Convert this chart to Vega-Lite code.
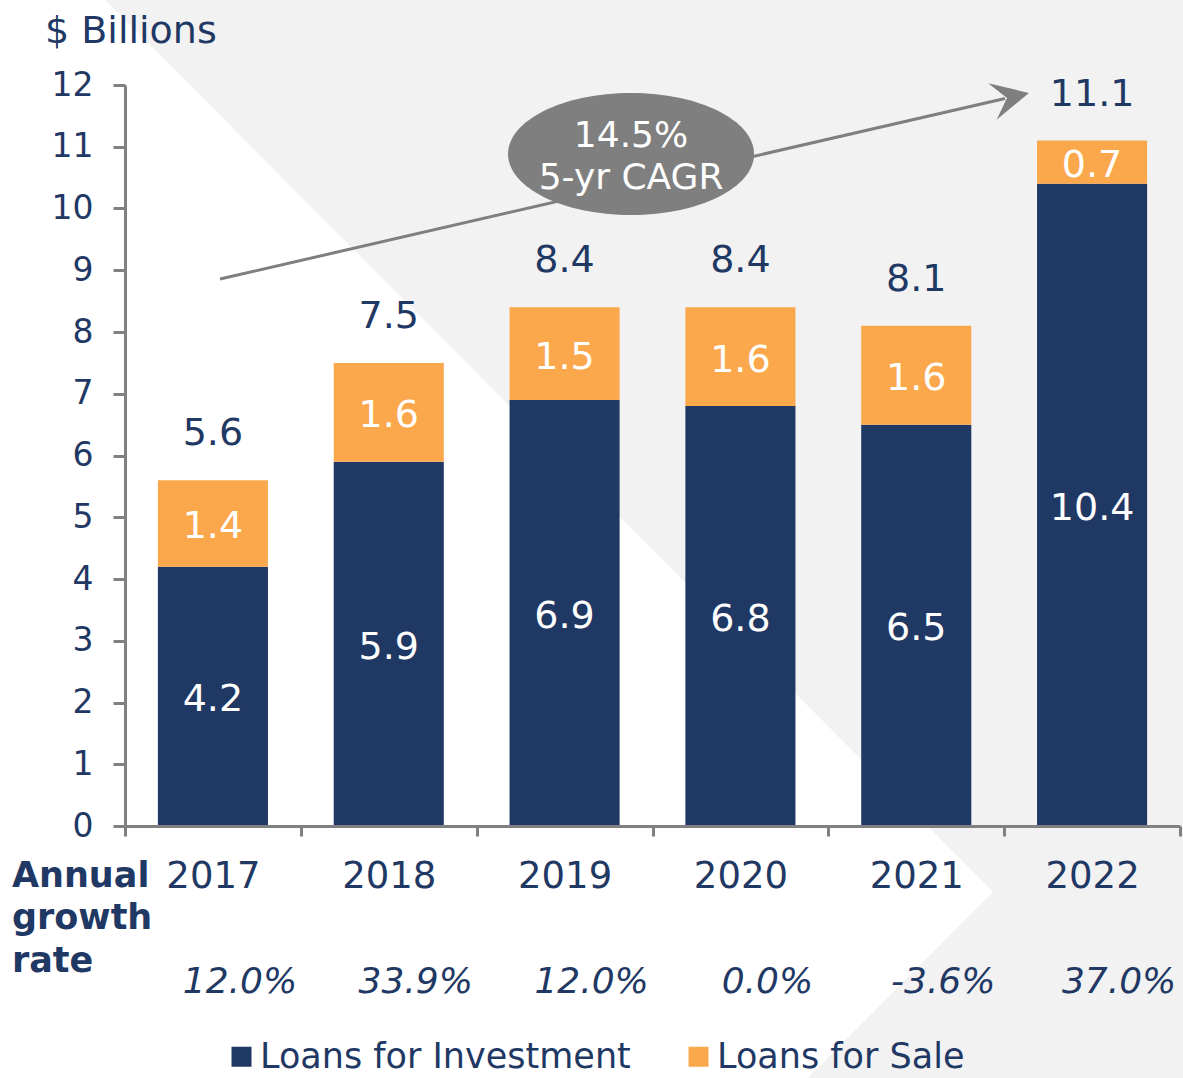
{
  "$schema": "https://vega.github.io/schema/vega-lite/v6.json",
  "width": 1055,
  "height": 741,
  "autosize": {"type": "none"},
  "padding": {"left": 125, "top": 85, "right": 3, "bottom": 252},
  "background": "white",
  "config": {
    "font": "DejaVu Sans",
    "view": {"stroke": null},
    "axis": {"grid": false, "domainColor": "#808080", "domainWidth": 3, "tickColor": "#808080", "tickWidth": 3, "labelColor": "#1f3864", "labelFont": "DejaVu Sans"}
  },
  "datasets": {
    "loans": [
      {"year": "2017", "type": "Loans for Investment", "amount": 4.2},
      {"year": "2017", "type": "Loans for Sale", "amount": 1.4},
      {"year": "2018", "type": "Loans for Investment", "amount": 5.9},
      {"year": "2018", "type": "Loans for Sale", "amount": 1.6},
      {"year": "2019", "type": "Loans for Investment", "amount": 6.9},
      {"year": "2019", "type": "Loans for Sale", "amount": 1.5},
      {"year": "2020", "type": "Loans for Investment", "amount": 6.8},
      {"year": "2020", "type": "Loans for Sale", "amount": 1.6},
      {"year": "2021", "type": "Loans for Investment", "amount": 6.5},
      {"year": "2021", "type": "Loans for Sale", "amount": 1.6},
      {"year": "2022", "type": "Loans for Investment", "amount": 10.4},
      {"year": "2022", "type": "Loans for Sale", "amount": 0.7}
    ],
    "growth": [
      {"year": "2017", "rate": "12.0%"},
      {"year": "2018", "rate": "33.9%"},
      {"year": "2019", "rate": "12.0%"},
      {"year": "2020", "rate": "0.0%"},
      {"year": "2021", "rate": "-3.6%"},
      {"year": "2022", "rate": "37.0%"}
    ]
  },
  "resolve": {"scale": {"x": "independent"}},
  "layer": [
    {
      "data": {"values": [{}]},
      "mark": {"type": "point", "shape": "M-0.838,-0.912L0.983,-0.912L0.983,0.918L0.327,0.918L0.655,0.588Z", "size": 1440000, "filled": true, "fill": "#f2f2f2", "strokeWidth": 0, "opacity": 1},
      "encoding": {
        "x": {"datum": 2.701, "type": "quantitative", "scale": {"domain": [0, 6], "nice": false, "zero": false}, "axis": null},
        "y": {"datum": 4.648, "type": "quantitative", "scale": {"domain": [0, 12], "nice": false}, "title": null}
      }
    },
    {
      "data": {"values": [{}]},
      "mark": {"type": "rule", "color": "#7f7f7f", "strokeWidth": 3},
      "encoding": {
        "x": {"datum": 0.540, "type": "quantitative", "scale": {"domain": [0, 6], "nice": false, "zero": false}, "axis": null},
        "x2": {"datum": 5.005},
        "y": {"datum": 8.858, "type": "quantitative", "scale": {"domain": [0, 12], "nice": false}, "title": null},
        "y2": {"datum": 11.781}
      }
    },
    {
      "data": {"values": [{}]},
      "mark": {"type": "point", "shape": "M1,0L-1,-1L-0.2,0L-1,1Z", "size": 1406, "angle": 347.05, "filled": true, "fill": "#7f7f7f", "strokeWidth": 0, "opacity": 1},
      "encoding": {
        "x": {"datum": 5.037, "type": "quantitative", "scale": {"domain": [0, 6], "nice": false, "zero": false}, "axis": null},
        "y": {"datum": 11.802, "type": "quantitative", "scale": {"domain": [0, 12], "nice": false}, "title": null}
      }
    },
    {
      "data": {"values": [{}]},
      "mark": {"type": "point", "shape": "M-1,0C-1,-0.274,-0.552,-0.496,0,-0.496C0.552,-0.496,1,-0.274,1,0C1,0.274,0.552,0.496,0,0.496C-0.552,0.496,-1,0.274,-1,0Z", "size": 60516, "filled": true, "fill": "#7f7f7f", "strokeWidth": 0, "opacity": 1},
      "encoding": {
        "x": {"datum": 2.878, "type": "quantitative", "scale": {"domain": [0, 6], "nice": false, "zero": false}, "axis": null},
        "y": {"datum": 10.883, "type": "quantitative", "scale": {"domain": [0, 12], "nice": false}, "title": null}
      }
    },
    {
      "data": {"values": [{}]},
      "mark": {"type": "text", "text": ["14.5%", "5-yr CAGR"], "lineHeight": 42, "fontSize": 36, "color": "white", "align": "center", "baseline": "alphabetic"},
      "encoding": {
        "x": {"datum": 2.878, "type": "quantitative", "scale": {"domain": [0, 6], "nice": false, "zero": false}, "axis": null},
        "y": {"datum": 10.996, "type": "quantitative", "scale": {"domain": [0, 12], "nice": false}, "title": null}
      }
    },
    {
      "data": {"values": [{}]},
      "mark": {"type": "text", "text": ["Annual", "growth", "rate"], "lineHeight": 42.4, "fontSize": 35, "fontWeight": "bold", "color": "#1f3864", "align": "left", "baseline": "alphabetic"},
      "encoding": {
        "x": {"datum": -0.643, "type": "quantitative", "scale": {"domain": [0, 6], "nice": false, "zero": false}, "axis": null},
        "y": {"datum": -0.988, "type": "quantitative", "scale": {"domain": [0, 12], "nice": false}, "title": null}
      }
    },
    {
      "data": {"values": [{}]},
      "mark": {"type": "text", "text": "$ Billions", "fontSize": 38, "color": "#1f3864", "align": "left", "baseline": "alphabetic"},
      "encoding": {
        "x": {"datum": -0.455, "type": "quantitative", "scale": {"domain": [0, 6], "nice": false, "zero": false}, "axis": null},
        "y": {"datum": 12.685, "type": "quantitative", "scale": {"domain": [0, 12], "nice": false}, "title": null}
      }
    },
    {
      "layer": [
        {
          "data": {"name": "loans"},
          "mark": {"type": "bar", "width": {"band": 0.626}},
          "encoding": {
            "x": {"field": "year", "type": "nominal", "scale": {"paddingInner": 0, "paddingOuter": 0},
                  "axis": {"title": null, "zindex": 1, "labelAngle": 0, "labelFontSize": 37, "labelPadding": 51, "labelBaseline": "alphabetic", "tickSize": 10, "tickBand": "extent"}},
            "y": {"field": "amount", "type": "quantitative", "stack": "zero", "scale": {"domain": [0, 12], "nice": false}, "title": null,
                  "axis": {"values": [0, 1, 2, 3, 4, 5, 6, 7, 8, 9, 10, 11, 12], "format": "d", "zindex": 1, "tickSize": 12, "labelFontSize": 33, "labelPadding": 20, "title": null}},
            "color": {"field": "type", "type": "nominal",
                      "scale": {"domain": ["Loans for Investment", "Loans for Sale"], "range": ["#1f3864", "#faa84b"]},
                      "legend": {"title": null, "orient": "none", "legendX": 99, "legendY": 954, "direction": "horizontal", "symbolType": "square", "symbolSize": 400, "symbolStrokeWidth": 0, "symbolOpacity": 1, "labelFontSize": 35, "labelColor": "#1f3864", "labelFont": "DejaVu Sans", "labelOffset": 1, "columnPadding": 50, "labelLimit": 0, "padding": 0}},
            "order": {"field": "type", "sort": "ascending"}
          }
        },
        {
          "data": {"name": "loans"},
          "transform": [
            {"stack": "amount", "groupby": ["year"], "sort": [{"field": "type", "order": "ascending"}], "as": ["lo", "hi"]},
            {"fold": ["lo", "hi"], "as": ["edge", "pos"]},
            {"aggregate": [{"op": "mean", "field": "pos", "as": "mid"}], "groupby": ["year", "type", "amount"]}
          ],
          "mark": {"type": "text", "color": "white", "fontSize": 38, "baseline": "middle", "align": "center", "dy": 4},
          "encoding": {
            "x": {"field": "year", "type": "nominal", "scale": {"paddingInner": 0, "paddingOuter": 0}},
            "y": {"field": "mid", "type": "quantitative", "scale": {"domain": [0, 12], "nice": false}, "title": null},
            "text": {"field": "amount", "type": "quantitative", "format": ".1f"}
          }
        },
        {
          "data": {"name": "loans"},
          "transform": [
            {"aggregate": [{"op": "sum", "field": "amount", "as": "total"}], "groupby": ["year"]}
          ],
          "mark": {"type": "text", "color": "#1f3864", "fontSize": 38, "baseline": "alphabetic", "align": "center", "dy": -35},
          "encoding": {
            "x": {"field": "year", "type": "nominal", "scale": {"paddingInner": 0, "paddingOuter": 0}},
            "y": {"field": "total", "type": "quantitative", "scale": {"domain": [0, 12], "nice": false}, "title": null},
            "text": {"field": "total", "type": "quantitative", "format": ".1f"}
          }
        },
        {
          "data": {"name": "growth"},
          "mark": {"type": "text", "color": "#1f3864", "fontSize": 36, "fontStyle": "italic", "baseline": "alphabetic", "align": "center", "dx": 27},
          "encoding": {
            "x": {"field": "year", "type": "nominal", "scale": {"paddingInner": 0, "paddingOuter": 0}},
            "y": {"datum": -2.704, "type": "quantitative", "scale": {"domain": [0, 12], "nice": false}, "title": null},
            "text": {"field": "rate", "type": "nominal"}
          }
        }
      ]
    }
  ]
}
